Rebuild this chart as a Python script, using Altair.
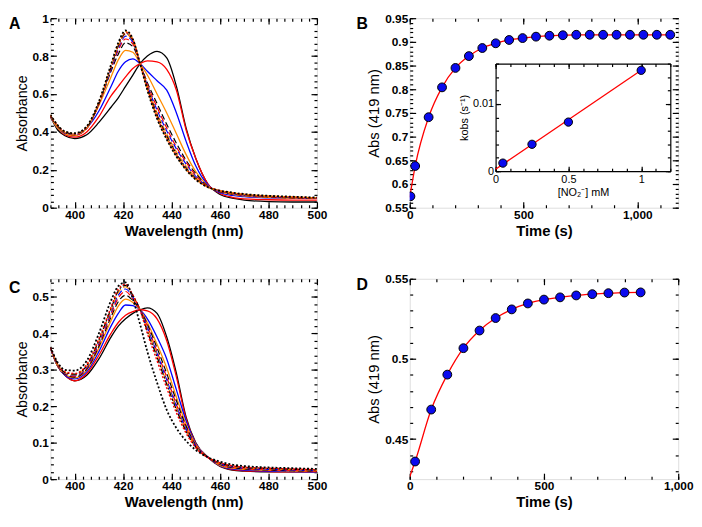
import altair as alt
import pandas as pd

FONT = "Liberation Sans"

# ---------------- data ----------------
WL = [390, 393, 396, 400, 405, 410, 415, 418, 421, 424, 427, 430, 434, 438, 442, 446, 450, 455, 460, 465, 470, 480, 490, 500]

# Panel A spectra
A_BLACK = [0.48, 0.41, 0.38, 0.365, 0.385, 0.45, 0.53, 0.58, 0.64, 0.70, 0.76, 0.80, 0.825, 0.79, 0.64, 0.42, 0.26, 0.125, 0.07, 0.05, 0.04, 0.032, 0.03, 0.03]
A_RED = [0.48, 0.42, 0.385, 0.372, 0.40, 0.48, 0.59, 0.64, 0.69, 0.735, 0.76, 0.775, 0.77, 0.73, 0.62, 0.41, 0.26, 0.125, 0.075, 0.055, 0.047, 0.042, 0.04, 0.04]
A_BLUE = [0.48, 0.42, 0.39, 0.38, 0.42, 0.51, 0.64, 0.72, 0.77, 0.785, 0.76, 0.72, 0.67, 0.62, 0.50, 0.35, 0.22, 0.12, 0.08, 0.065, 0.058, 0.052, 0.05, 0.05]
A_ORANGE = [0.48, 0.42, 0.39, 0.38, 0.42, 0.54, 0.69, 0.78, 0.83, 0.82, 0.76, 0.70, 0.60, 0.50, 0.39, 0.28, 0.19, 0.115, 0.085, 0.07, 0.062, 0.055, 0.05, 0.05]
A_BLACK_DASH = [0.48, 0.43, 0.395, 0.385, 0.42, 0.55, 0.72, 0.81, 0.87, 0.85, 0.76, 0.66, 0.55, 0.44, 0.34, 0.25, 0.18, 0.113, 0.085, 0.072, 0.065, 0.057, 0.052, 0.05]
A_RED_DASH = [0.485, 0.43, 0.395, 0.385, 0.42, 0.55, 0.73, 0.83, 0.89, 0.865, 0.76, 0.65, 0.53, 0.42, 0.32, 0.24, 0.17, 0.112, 0.087, 0.074, 0.066, 0.058, 0.053, 0.05]
A_BLUE_DASH = [0.485, 0.43, 0.395, 0.387, 0.42, 0.55, 0.73, 0.84, 0.905, 0.875, 0.76, 0.645, 0.515, 0.405, 0.31, 0.23, 0.165, 0.111, 0.088, 0.075, 0.067, 0.059, 0.054, 0.05]
A_ORANGE_DASH = [0.485, 0.43, 0.397, 0.388, 0.42, 0.55, 0.74, 0.85, 0.915, 0.88, 0.76, 0.64, 0.50, 0.39, 0.295, 0.22, 0.16, 0.11, 0.089, 0.076, 0.068, 0.06, 0.055, 0.05]
A_BLACK_DASHDOT = [0.487, 0.432, 0.398, 0.39, 0.425, 0.55, 0.74, 0.855, 0.92, 0.885, 0.76, 0.635, 0.49, 0.38, 0.285, 0.21, 0.155, 0.11, 0.09, 0.077, 0.069, 0.06, 0.055, 0.05]
A_RED_DOT = [0.487, 0.433, 0.40, 0.39, 0.425, 0.55, 0.745, 0.86, 0.925, 0.888, 0.76, 0.63, 0.48, 0.37, 0.278, 0.205, 0.152, 0.11, 0.09, 0.078, 0.07, 0.061, 0.056, 0.052]
A_ORANGE_DOT = [0.49, 0.435, 0.40, 0.392, 0.428, 0.56, 0.75, 0.865, 0.93, 0.89, 0.76, 0.625, 0.475, 0.365, 0.272, 0.20, 0.15, 0.108, 0.09, 0.079, 0.071, 0.062, 0.057, 0.052]
A_BLACK_DOT = [0.49, 0.435, 0.402, 0.393, 0.43, 0.56, 0.755, 0.87, 0.935, 0.89, 0.76, 0.62, 0.47, 0.36, 0.27, 0.20, 0.148, 0.108, 0.09, 0.08, 0.072, 0.063, 0.058, 0.054]

# Panel C spectra
C_BLACK = [0.36, 0.31, 0.285, 0.27, 0.285, 0.33, 0.39, 0.42, 0.44, 0.455, 0.465, 0.47, 0.455, 0.39, 0.29, 0.17, 0.10, 0.06, 0.035, 0.025, 0.022, 0.02, 0.02, 0.02]
C_RED = [0.36, 0.31, 0.285, 0.27, 0.29, 0.34, 0.40, 0.43, 0.45, 0.46, 0.465, 0.462, 0.44, 0.38, 0.28, 0.165, 0.098, 0.06, 0.036, 0.026, 0.023, 0.021, 0.02, 0.02]
C_BLUE = [0.36, 0.31, 0.285, 0.275, 0.295, 0.35, 0.42, 0.455, 0.478, 0.476, 0.465, 0.44, 0.39, 0.33, 0.245, 0.16, 0.097, 0.06, 0.037, 0.028, 0.025, 0.022, 0.021, 0.02]
C_ORANGE = [0.36, 0.31, 0.287, 0.278, 0.30, 0.36, 0.435, 0.475, 0.494, 0.485, 0.465, 0.43, 0.37, 0.305, 0.225, 0.15, 0.095, 0.06, 0.038, 0.03, 0.027, 0.024, 0.022, 0.021]
C_BLACK_DASH = [0.36, 0.312, 0.288, 0.28, 0.302, 0.365, 0.445, 0.487, 0.505, 0.49, 0.465, 0.425, 0.36, 0.29, 0.215, 0.145, 0.093, 0.06, 0.04, 0.032, 0.028, 0.025, 0.023, 0.022]
C_RED_DASH = [0.36, 0.313, 0.29, 0.282, 0.305, 0.37, 0.452, 0.497, 0.515, 0.495, 0.465, 0.42, 0.35, 0.28, 0.205, 0.14, 0.092, 0.06, 0.041, 0.033, 0.029, 0.026, 0.024, 0.022]
C_BLUE_DASH = [0.36, 0.314, 0.291, 0.284, 0.307, 0.374, 0.458, 0.505, 0.522, 0.50, 0.465, 0.415, 0.345, 0.272, 0.20, 0.137, 0.09, 0.06, 0.042, 0.034, 0.03, 0.027, 0.025, 0.023]
C_ORANGE_DASH = [0.361, 0.315, 0.292, 0.286, 0.31, 0.378, 0.463, 0.512, 0.528, 0.503, 0.465, 0.41, 0.34, 0.265, 0.195, 0.134, 0.089, 0.06, 0.043, 0.035, 0.031, 0.028, 0.026, 0.024]
C_BLACK_DASHDOT = [0.361, 0.316, 0.293, 0.288, 0.312, 0.382, 0.468, 0.517, 0.532, 0.505, 0.465, 0.405, 0.335, 0.26, 0.19, 0.131, 0.088, 0.06, 0.044, 0.036, 0.032, 0.029, 0.027, 0.025]
C_RED_DOT = [0.362, 0.317, 0.295, 0.29, 0.315, 0.386, 0.472, 0.522, 0.535, 0.505, 0.463, 0.40, 0.325, 0.25, 0.182, 0.126, 0.086, 0.059, 0.045, 0.037, 0.033, 0.03, 0.028, 0.026]
C_BLACK_DOT = [0.363, 0.32, 0.30, 0.298, 0.325, 0.40, 0.49, 0.53, 0.54, 0.495, 0.425, 0.35, 0.265, 0.19, 0.14, 0.105, 0.08, 0.06, 0.048, 0.04, 0.036, 0.032, 0.03, 0.028]

# Panel B kinetics
B_T = [3, 24, 83, 142, 201, 260, 319, 378, 437, 496, 555, 614, 673, 732, 791, 850, 909, 968, 1027, 1086, 1145]
B_ABS = [0.574, 0.638, 0.741, 0.804, 0.845, 0.870, 0.887, 0.897, 0.904, 0.908, 0.911, 0.913, 0.914, 0.915, 0.915, 0.915, 0.915, 0.915, 0.915, 0.915, 0.915]
B_FIT_T = [0, 24, 83, 142, 201, 260, 319, 378, 437, 496, 555, 614, 673, 732, 791, 850, 909, 968, 1027, 1086, 1145]
B_FIT_ABS = [0.572, 0.638, 0.741, 0.804, 0.845, 0.870, 0.887, 0.897, 0.904, 0.908, 0.911, 0.913, 0.914, 0.915, 0.915, 0.915, 0.915, 0.915, 0.915, 0.915, 0.915]

# Inset of B
NO2_MM = [0.05, 0.25, 0.5, 1.0]
KOBS = [0.0012, 0.0040, 0.0073, 0.0150]
KFIT_X = [0.0, 1.0]
KFIT_Y = [0.0003, 0.0150]

# Panel D kinetics
D_T = [20, 80, 140, 200, 260, 320, 380, 440, 500, 560, 620, 680, 740, 800, 860]
D_ABS = [0.436, 0.4684, 0.4902, 0.5067, 0.5177, 0.5255, 0.5309, 0.5346, 0.537, 0.5384, 0.5396, 0.5404, 0.541, 0.5414, 0.5415]
D_FIT_T = [0, 20, 80, 140, 200, 260, 320, 380, 440, 500, 560, 620, 680, 740, 800, 860]
D_FIT_ABS = [0.4265, 0.436, 0.4684, 0.4902, 0.5067, 0.5177, 0.5255, 0.5309, 0.5346, 0.537, 0.5384, 0.5396, 0.5404, 0.541, 0.5414, 0.5415]

# ---------------- styles ----------------
ORANGE = "#ff8c00"
STYLES_A = [
    ("#000000", None, 1.3), ("#ff0000", None, 1.3), ("#0000ff", None, 1.3), (ORANGE, None, 1.3),
    ("#000000", [6, 3], 1.2), ("#ff0000", [6, 3], 1.2), ("#0000ff", [6, 3], 1.2), (ORANGE, [6, 3], 1.2),
    ("#000000", [6, 2, 2, 2], 1.2), ("#ff0000", [2, 2], 1.4), (ORANGE, [2, 2], 1.4), ("#000000", [2, 2], 1.8),
]
STYLES_C = [
    ("#000000", None, 1.3), ("#ff0000", None, 1.3), ("#0000ff", None, 1.3), (ORANGE, None, 1.3),
    ("#000000", [6, 3], 1.2), ("#ff0000", [6, 3], 1.2), ("#0000ff", [6, 3], 1.2), (ORANGE, [6, 3], 1.2),
    ("#000000", [6, 2, 2, 2], 1.2), ("#ff0000", [2, 2], 1.4), ("#000000", [2, 2], 1.8),
]

W1, W2 = 270, 272
H_TOP, H_BOT = 192, 203
MAJ, MIN = 6, 3


def tick_axis(orient, values, size, offset, labels=False, fmt=None, title=None,
              title_bold=False, label_size=12, label_bold=True, title_size=14,
              domain=False, ticks=True):
    kw = dict(orient=orient, values=values, grid=False, domain=domain, ticks=ticks,
              tickSize=size, tickColor="black", tickWidth=1.2, offset=offset,
              labels=labels, domainColor="black", domainWidth=1.2)
    if labels:
        kw.update(format=fmt, labelFont=FONT, labelFontSize=label_size,
                  labelFontWeight="bold" if label_bold else "normal", labelColor="black",
                  labelPadding=2, labelFlush=False, labelOverlap=False, labelBound=False)
    if title:
        kw.update(title=title, titleFont=FONT, titleFontSize=title_size,
                  titleFontWeight="bold" if title_bold else "normal", titleColor="black",
                  titlePadding=3)
    else:
        kw["title"] = None
    return alt.Axis(**kw)


def guide(gdf, xs, ys, xa, ya):
    return alt.Chart(gdf).mark_point(opacity=0).encode(
        x=alt.X("x:Q", scale=xs, axis=xa), y=alt.Y("y:Q", scale=ys, axis=ya))


def frame_guides(xs, ys, xdom, ydom, xmaj, xmin, ymaj, ymin, xtitle, ytitle, xfmt, yfmt, ytsize):
    gdf = pd.DataFrame({"x": xdom, "y": ydom})
    return [
        guide(gdf, xs, ys,
              tick_axis("bottom", xmaj, MAJ, -MAJ, labels=True, fmt=xfmt, title=xtitle,
                        title_bold=True, title_size=15),
              tick_axis("left", ymaj, MAJ, -MAJ, labels=True, fmt=yfmt, title=ytitle,
                        title_size=ytsize)),
        guide(gdf, xs, ys, tick_axis("bottom", xmin, MIN, -MIN), tick_axis("left", ymin, MIN, -MIN)),
        guide(gdf, xs, ys, tick_axis("top", xmaj, MAJ, -MAJ), tick_axis("right", ymaj, MAJ, -MAJ)),
        guide(gdf, xs, ys, tick_axis("top", xmin, MIN, -MIN), tick_axis("right", ymin, MIN, -MIN)),
    ]


def letter(t, dx):
    return alt.TitleParams(t, anchor="start", frame="group", dx=dx, dy=20, offset=0,
                           baseline="top", font=FONT, fontSize=16, fontWeight="bold", color="black")


def spectra_panel(curves, styles, ydom, ymaj, ymin, t, w, h):
    xs = alt.Scale(domain=[390, 500], nice=False, zero=False)
    ys = alt.Scale(domain=ydom, nice=False, zero=False)
    layers = []
    for vals, (color, dash, sw) in zip(curves, styles):
        df = pd.DataFrame({"wl": WL, "a": vals})
        mk = dict(color=color, strokeWidth=sw, interpolate="monotone", clip=True)
        if dash:
            mk["strokeDash"] = dash
        layers.append(alt.Chart(df).mark_line(**mk).encode(
            x=alt.X("wl:Q", scale=xs, axis=None), y=alt.Y("a:Q", scale=ys, axis=None)))
    xmaj = [400, 420, 440, 460, 480, 500]
    xmin = [round(390 + i * 10 / 3, 3) for i in range(34)]
    layers += frame_guides(xs, ys, [390, 500], ydom, xmaj, xmin, ymaj, ymin,
                           "Wavelength (nm)", "Absorbance", "d", "~g", 14.5)
    return alt.layer(*layers).resolve_axis(x="independent", y="independent").properties(
        width=w, height=h, title=letter(t, -42))


# ---------- Panel A ----------
A_CURVES = [A_BLACK, A_RED, A_BLUE, A_ORANGE, A_BLACK_DASH, A_RED_DASH, A_BLUE_DASH,
            A_ORANGE_DASH, A_BLACK_DASHDOT, A_RED_DOT, A_ORANGE_DOT, A_BLACK_DOT]
panelA = spectra_panel(A_CURVES, STYLES_A, [0, 1], [0, 0.2, 0.4, 0.6, 0.8, 1],
                       [round(i * 0.2 / 6, 4) for i in range(31)], "A", W1, H_TOP)

# ---------- Panel C ----------
C_CURVES = [C_BLACK, C_RED, C_BLUE, C_ORANGE, C_BLACK_DASH, C_RED_DASH, C_BLUE_DASH,
            C_ORANGE_DASH, C_BLACK_DASHDOT, C_RED_DOT, C_BLACK_DOT]
panelC = spectra_panel(C_CURVES, STYLES_C, [0, 0.55], [0, 0.1, 0.2, 0.3, 0.4, 0.5],
                       [round(i * 0.02, 3) for i in range(28)], "C", W1, H_BOT)


# ---------- kinetics helper ----------
def kinetics_layers(pt_t, pt_v, fit_t, fit_v, xdom, ydom, xmaj, xmin, ymaj, ymin):
    xs = alt.Scale(domain=xdom, nice=False, zero=False)
    ys = alt.Scale(domain=ydom, nice=False, zero=False)
    fit = alt.Chart(pd.DataFrame({"t": fit_t, "v": fit_v})).mark_line(
        color="#ff0000", strokeWidth=1.3, interpolate="monotone", clip=True).encode(
        x=alt.X("t:Q", scale=xs, axis=None), y=alt.Y("v:Q", scale=ys, axis=None))
    pts = alt.Chart(pd.DataFrame({"t": pt_t, "v": pt_v})).mark_circle(
        color="#0a0aee", stroke="black", strokeWidth=1, size=80, opacity=1, clip=True).encode(
        x=alt.X("t:Q", scale=xs, axis=None), y=alt.Y("v:Q", scale=ys, axis=None))
    return [fit, pts] + frame_guides(xs, ys, xdom, ydom, xmaj, xmin, ymaj, ymin,
                                     "Time (s)", "Abs (419 nm)", ",d", "~g", 15)


# ---------- Panel B with inset ----------
mainB = alt.layer(*kinetics_layers(
    B_T, B_ABS, B_FIT_T, B_FIT_ABS, [0, 1180], [0.55, 0.95], [0, 500, 1000],
    [i * 100 for i in range(12)],
    [0.55, 0.6, 0.65, 0.7, 0.75, 0.8, 0.85, 0.9, 0.95],
    [round(0.55 + i * 0.01, 3) for i in range(41)])).resolve_axis(x="independent", y="independent")

ix0, ix1 = round(0.321 * W2), round(0.971 * W2)
iy0, iy1 = round(0.242 * H_TOP), round(0.808 * H_TOP)
xsI = alt.Scale(domain=[0, 1.2], nice=False, zero=False, range=[ix0, ix1])
ysI = alt.Scale(domain=[0, 0.016], nice=False, zero=False, range=[iy1, iy0])
IM, IS = 5, 3
ixmaj, ixmin = [0, 0.5, 1], [round(i * 0.1, 2) for i in range(13)]
iymaj, iymin = [0, 0.01], [round(i * 0.002, 4) for i in range(9)]
gI = pd.DataFrame({"x": [0, 1.2], "y": [0, 0.016]})

inset_layers = [
    alt.Chart(pd.DataFrame({"x": KFIT_X, "y": KFIT_Y})).mark_line(color="#ff0000", strokeWidth=1.3).encode(
        x=alt.X("x:Q", scale=xsI, axis=None), y=alt.Y("y:Q", scale=ysI, axis=None)),
    alt.Chart(pd.DataFrame({"x": NO2_MM, "y": KOBS})).mark_circle(
        color="#0a0aee", stroke="black", strokeWidth=1, size=70, opacity=1).encode(
        x=alt.X("x:Q", scale=xsI, axis=None), y=alt.Y("y:Q", scale=ysI, axis=None)),
    guide(gI, xsI, ysI,
          tick_axis("bottom", ixmaj, IM, iy1 - IM - H_TOP, labels=True, fmt="~g",
                    title="[NO\u2082\u207b] mM", label_size=11, label_bold=False, title_size=11),
          tick_axis("left", iymaj, IM, -(ix0 + IM), labels=True, fmt="~g",
                    title="kobs (s\u207b\u00b9)", label_size=11, label_bold=False, title_size=11)),
    guide(gI, xsI, ysI,
          tick_axis("bottom", ixmin, IS, iy1 - IS - H_TOP),
          tick_axis("left", iymin, IS, -(ix0 + IS))),
    guide(gI, xsI, ysI,
          tick_axis("bottom", ixmaj, 0, iy1 - H_TOP, domain=True, ticks=False),
          tick_axis("left", iymaj, 0, -ix0, domain=True, ticks=False)),
    guide(gI, xsI, ysI,
          tick_axis("top", ixmaj, 0, -iy0, domain=True, ticks=False),
          tick_axis("right", iymaj, 0, ix1 - W2, domain=True, ticks=False)),
    guide(gI, xsI, ysI,
          tick_axis("top", ixmaj, IM, -(iy0 + IM)),
          tick_axis("right", iymaj, IM, ix1 - IM - W2)),
    guide(gI, xsI, ysI,
          tick_axis("top", ixmin, IS, -(iy0 + IS)),
          tick_axis("right", iymin, IS, ix1 - IS - W2)),
]
insetB = alt.layer(*inset_layers).resolve_axis(x="independent", y="independent")

panelB = alt.layer(mainB, insetB).resolve_scale(x="independent", y="independent").resolve_axis(
    x="independent", y="independent").properties(width=W2, height=H_TOP, title=letter("B", -54))

# ---------- Panel D ----------
panelD = alt.layer(*kinetics_layers(
    D_T, D_ABS, D_FIT_T, D_FIT_ABS, [0, 1000], [0.425, 0.55], [0, 500, 1000],
    [i * 100 for i in range(11)], [0.45, 0.5, 0.55],
    [round(0.43 + i * 0.01, 3) for i in range(13)])).resolve_axis(
    x="independent", y="independent").properties(width=W2, height=H_BOT, title=letter("D", -54))

chart = alt.concat(panelA, panelB, panelC, panelD, columns=2,
                   spacing={"row": 72, "column": 94}, bounds="flush").properties(
    padding={"left": 0, "top": 0, "right": 0, "bottom": 0}
).configure_view(stroke="black", strokeWidth=1.5).configure(background="white")

chart.save("out.html", embed_options={"renderer": "svg", "actions": False})
